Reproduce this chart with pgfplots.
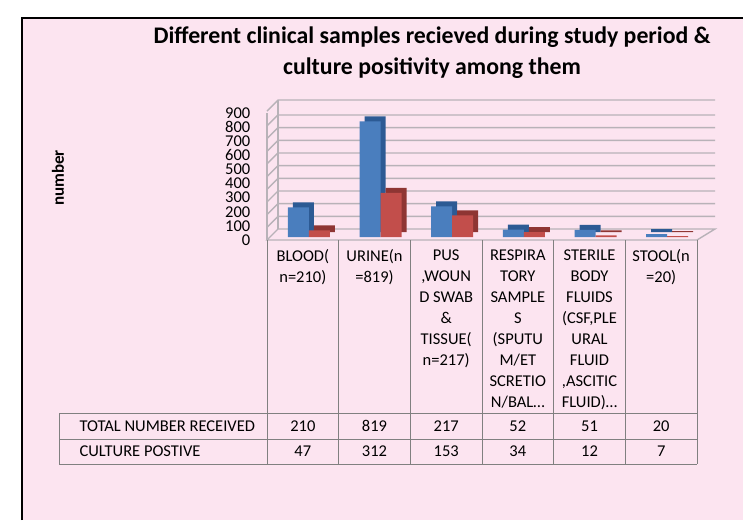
\documentclass[border=0pt]{standalone}
\usepackage{fontspec}
\setmainfont{Carlito}
\usepackage{pgfplots}
\pgfplotsset{compat=1.18}
\definecolor{bgpink}{HTML}{FCE4F0}
\definecolor{bluefront}{HTML}{4A7EBE}
\definecolor{blueside}{HTML}{2C5A94}
\definecolor{redfront}{HTML}{C24E4B}
\definecolor{redside}{HTML}{8E3533}
\definecolor{gridc}{HTML}{B8B2B8}
\definecolor{tablec}{HTML}{808080}
\pgfplotstableread{
x total pos
0 210 47
1 819 312
2 217 153
3 52 34
4 51 12
5 20 7
}\datatab
\begin{document}
\begin{tikzpicture}[x=1pt,y=1pt]
\useasboundingbox (0,0) rectangle (743,520);
\fill[white] (0,0) rectangle (743,520);
\fill[bgpink] (22,0) rectangle (743,502);
\draw[black, line width=1.2pt] (22,0) -- (22,502) -- (743,502);
\node[font=\fontsize{23.8}{31}\selectfont\bfseries, align=center] at (432,467.5)
  {Different clinical samples recieved during study period \&\\culture positivity among them};
\node[rotate=90, font=\fontsize{17}{18}\selectfont\bfseries] at (58,342) {number};
\begin{axis}[
  at={(267pt,280pt)}, anchor=south west,
  scale only axis, width=430pt, height=127pt,
  xmin=-0.5, xmax=5.5, ymin=0, ymax=900,
  clip=false,
  axis line style={draw=none},
  major tick length=0pt,
  ytick={0,100,...,900},
  xtick={0,...,5},
  xticklabels={{BLOOD(\\n=210)},{URINE(n\\=819)},{PUS\\,WOUN\\D SWAB\\\&\\TISSUE(\\n=217)},{RESPIRA\\TORY\\SAMPLE\\S\\(SPUTU\\M/ET\\SCRETIO\\N/BAL…},{STERILE\\BODY\\FLUIDS\\(CSF,PLE\\URAL\\FLUID\\,ASCITIC\\FLUID)…},{STOOL(n\\=20)}},
  xticklabel style={font=\fontsize{16.5}{21}\selectfont, align=center, anchor=north, yshift=-6pt},
  yticklabel style={font=\fontsize{16.5}{14}\selectfont, anchor=east, inner sep=0.5pt, xshift=-16pt},
  /pgf/number format/assume math mode=true,
]
% back wall and floor
\pgfplotsinvokeforeach{100,200,...,900}{
  \draw[gridc, line width=1.4pt] (axis cs:-0.5,{0.898*#1}) -- ++(11pt,11pt) -- ([shift={(18pt,11pt)}]axis cs:5.5,{0.898*#1});
}
\draw[gridc, line width=1.4pt] (axis cs:-0.5,914) -- ++(11pt,11pt) -- ([shift={(18pt,11pt)}]axis cs:5.5,914);
\draw[gridc, line width=1.4pt] (axis cs:-0.5,0) -- ++(11pt,11pt) -- ([shift={(18pt,11pt)}]axis cs:5.5,0) -- (axis cs:5.5,0) -- cycle;
\draw[gridc, line width=1.2pt] (axis cs:-0.5,0) -- (axis cs:-0.5,900);
\draw[gridc, line width=1.2pt] ([shift={(11pt,11pt)}]axis cs:-0.5,0) -- ([shift={(11pt,11pt)}]axis cs:-0.5,914);
% bars: depth faces then front faces
\addplot[ybar, bar width=21pt, bar shift=0.5pt, fill=blueside, draw=none, yshift=8pt] table[x=x,y=total] {\datatab};
\addplot[ybar, bar width=21pt, bar shift=-4.5pt, fill=bluefront, draw=none, yshift=3pt] table[x=x,y=total] {\datatab};
\addplot[ybar, bar width=21pt, bar shift=21.5pt, fill=redside, draw=none, yshift=8pt] table[x=x,y=pos] {\datatab};
\addplot[ybar, bar width=21pt, bar shift=16.5pt, fill=redfront, draw=none, yshift=3pt] table[x=x,y=pos] {\datatab};
\end{axis}
% data table
\foreach \xx in {267,338.7,410.3,482,553.7,625.3,697}{
  \draw[tablec, line width=1pt] (\xx,280) -- (\xx,56);
}
\draw[tablec, line width=1pt] (59,107) -- (697,107);
\draw[tablec, line width=1pt] (59,81) -- (697,81);
\draw[tablec, line width=1pt] (59,56) -- (697,56);
\draw[tablec, line width=1pt] (59,107) -- (59,56);
\node[anchor=west, font=\fontsize{16.5}{16}\selectfont] at (76,94) {TOTAL NUMBER RECEIVED};
\node[anchor=west, font=\fontsize{16.5}{16}\selectfont] at (76,68.5) {CULTURE POSTIVE};
\foreach \i/\a/\b in {0/210/47,1/819/312,2/217/153,3/52/34,4/51/12,5/20/7}{
  \node[font=\fontsize{16.5}{16}\selectfont] at ({267+71.67*(\i+0.5)},94) {\a};
  \node[font=\fontsize{16.5}{16}\selectfont] at ({267+71.67*(\i+0.5)},68.5) {\b};
}
\end{tikzpicture}
\end{document}
